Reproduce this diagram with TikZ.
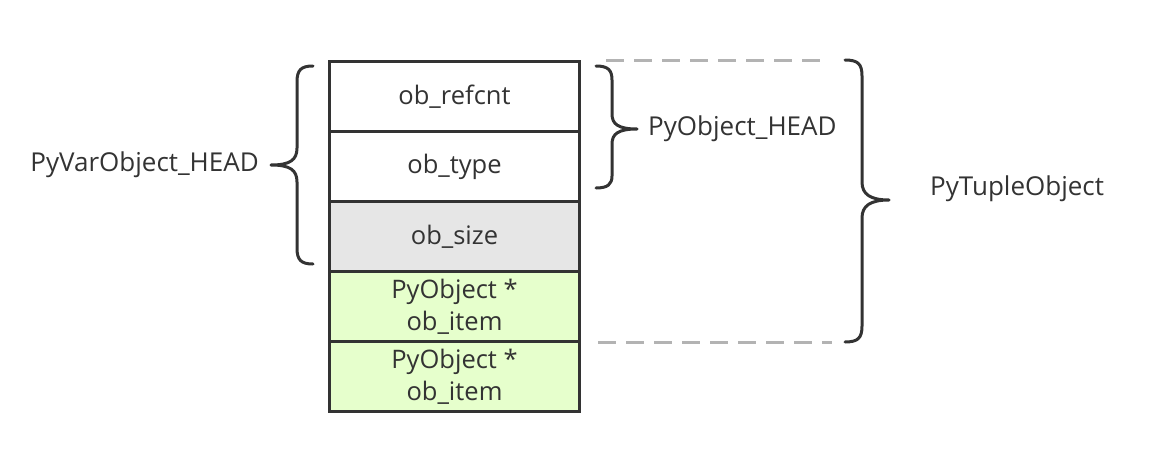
\documentclass[tikz,border=0pt]{standalone}
\usepackage{fontspec}
\setmainfont{Open Sans}
\definecolor{ink}{HTML}{333333}
\definecolor{sizefill}{HTML}{E6E6E6}
\definecolor{itemfill}{HTML}{E6FFCC}
\definecolor{dashgray}{HTML}{B3B3B3}
\begin{document}
\begin{tikzpicture}[x=1pt,y=-1pt,
  cell/.style={draw=ink, line width=3pt, minimum width=250pt, minimum height=70pt, inner sep=0pt, anchor=north west, text=ink, font=\fontsize{25.5}{32}\selectfont, align=center},
  lbl/.style={text=ink, font=\fontsize{26}{30}\selectfont, inner sep=0pt},
  brace/.style={draw=ink, line width=3pt, line cap=round, line join=round},
  guide/.style={draw=dashgray, line width=3pt, dash pattern=on 18pt off 10pt}]
\useasboundingbox (0,0) rectangle (1166,458);
\node[cell, fill=white] (refcnt) at (328,60) {ob\_refcnt};
\node[cell, fill=white] (type) at (328,130) {ob\_type};
\node[cell, fill=sizefill] (size) at (328,200) {ob\_size};
\node[cell, fill=itemfill] (item1) at (328,270) {PyObject *\\ob\_item};
\node[cell, fill=itemfill] (item2) at (328,340) {PyObject *\\ob\_item};
% left brace
\draw[brace] (313,66) .. controls (301,66) and (297,70) .. (297,82) -- (297,148)
  .. controls (297,160) and (290,165) .. (271,165)
  .. controls (290,165) and (297,170) .. (297,182) -- (297,248)
  .. controls (297,260) and (301,264) .. (313,264);
\node[lbl, anchor=east] (varhead) at (259,165) {PyVarObject\_HEAD};
% PyObject_HEAD brace
\draw[brace] (596,66) .. controls (608,66) and (612,70) .. (612,80) -- (612,114)
  .. controls (612,124) and (618,129) .. (637,129)
  .. controls (618,129) and (612,134) .. (612,144) -- (612,176)
  .. controls (612,184) and (608,188) .. (596,188);
\node[lbl, anchor=west] (objhead) at (648,129) {PyObject\_HEAD};
% big brace
\draw[brace] (845,60) .. controls (858,60) and (862,64) .. (862,76) -- (862,182)
  .. controls (862,194) and (870,200) .. (889,200)
  .. controls (870,200) and (862,206) .. (862,218) -- (862,326)
  .. controls (862,338) and (858,342) .. (845,342);
\node[lbl, anchor=west] (tuple) at (930,189) {PyTupleObject};
% dashed guides
\draw[guide] (606,60) -- (826,60);
\draw[guide] (598,342) -- (832,342);
\end{tikzpicture}
\end{document}
